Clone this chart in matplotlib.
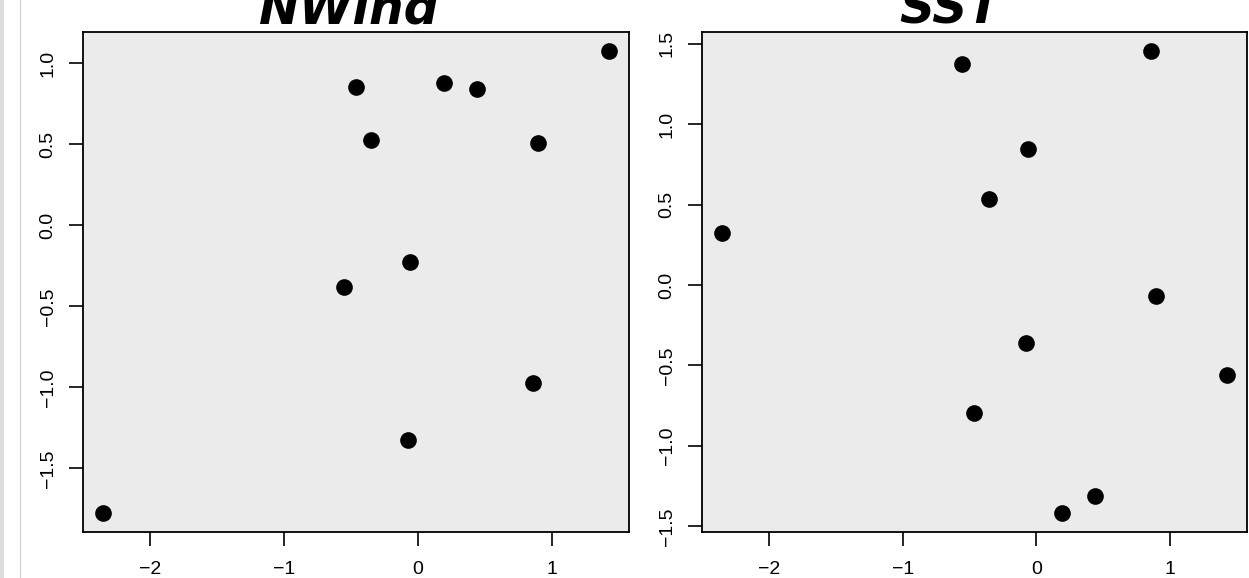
import matplotlib
matplotlib.use("Agg")
import matplotlib.pyplot as plt
from matplotlib.patches import Rectangle
from matplotlib.lines import Line2D

# Data (shared x scores, two responses)
x_vals = [1.425, -0.467, 0.19, 0.437, -0.355, 0.894, -0.064, -0.557, 0.857, -0.079, -2.353]
nwind = [1.08, 0.852, 0.877, 0.84, 0.525, 0.512, -0.228, -0.377, -0.975, -1.327, -1.778]
sst = [-0.562, -0.798, -1.42, -1.314, 0.537, -0.071, 0.842, 1.376, 1.457, -0.363, 0.325]
titles = ["NWind", "SST"]
xticks = [-2, -1, 0, 1]
yticks_nwind = [-1.5, -1.0, -0.5, 0.0, 0.5, 1.0]
yticks_sst = [-1.5, -1.0, -0.5, 0.0, 0.5, 1.0, 1.5]

W, H = 1249, 578
fig = plt.figure(figsize=(W / 100, H / 100), dpi=100)
plt.rcParams['font.family'] = ['Liberation Sans', 'DejaVu Sans']

# left-edge screenshot artefacts
fig.patches.append(Rectangle((0, 0), 4 / W, 1, transform=fig.transFigure,
                             facecolor="#dcdcdc", edgecolor="none"))
fig.lines.append(Line2D([19.5 / W, 19.5 / W], [0, 1], transform=fig.transFigure,
                        color="#cfcfcf", linewidth=0.8))

def rng(v):
    lo, hi = min(v), max(v)
    d = (hi - lo) * 0.04
    return lo - d, hi + d

panels = [
    (83, 629, nwind, yticks_nwind, titles[0], 349),
    (702, 1247, sst, yticks_sst, titles[1], 950),
]
top_px, bot_px = 32, 532
for x0, x1, yv, yt, title, tcx in panels:
    ax = fig.add_axes([x0 / W, (H - bot_px) / H, (x1 - x0) / W, (bot_px - top_px) / H])
    ax.set_facecolor("#ebebeb")
    ax.plot(x_vals, yv, 'o', color='black', markersize=12, markeredgewidth=0)
    ax.set_xlim(*rng(x_vals))
    ax.set_ylim(*rng(yv))
    ax.set_xticks(xticks)
    ax.set_xticklabels([f"{t:g}".replace('-', '\u2212') for t in xticks])
    ax.set_yticks(yt)
    ax.set_yticklabels([f"{t:.1f}".replace('-', '\u2212') for t in yt],
                       rotation=90, va='center')
    ax.tick_params(axis='both', length=10, width=1.2, labelsize=14, direction='out')
    ax.tick_params(axis='x', pad=11)
    ax.tick_params(axis='y', pad=9)
    for s in ax.spines.values():
        s.set_linewidth(1.3)
        s.set_color('black')
    fig.text(tcx / W, (H - 23) / H, title, ha='center', va='baseline',
             fontsize=35, fontweight='bold', fontstyle='italic',
             family=['DejaVu Sans'])

fig.savefig("out.png", dpi=100)
